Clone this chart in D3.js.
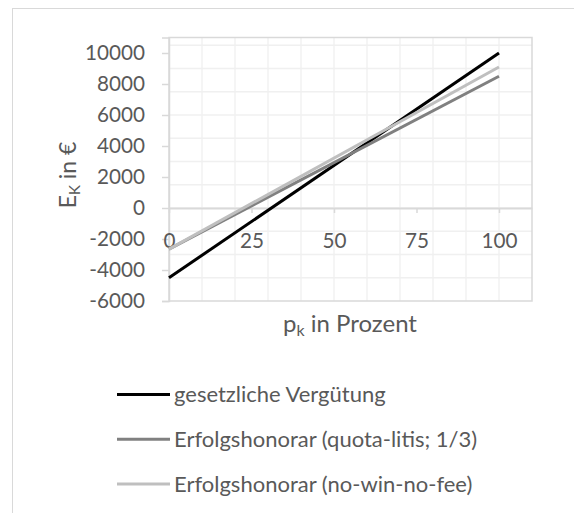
<!DOCTYPE html>
<html>
<head>
<meta charset="utf-8">
<script src="https://cdn.jsdelivr.net/npm/d3@7"></script>
<style>
  body { margin: 0; background: #fff; }
  text { font-family: Lato, 'Open Sans', sans-serif; fill: #595959; }
</style>
</head>
<body>
<div id="chart"></div>
<script>
// values
const pValues = [0, 100];
const gesetzlich = [-4500, 10000];
const quotaLitis = [-2650, 8500];
const noWinNoFee = [-2650, 9100];

const seriesNames = [
  'gesetzliche Vergütung',
  'Erfolgshonorar (quota-litis; 1/3)',
  'Erfolgshonorar (no-win-no-fee)',
];
const seriesColors = ['#000000', '#808080', '#bfbfbf'];

const xTicks = [0, 25, 50, 75, 100];
const yTicks = [-6000, -4000, -2000, 0, 2000, 4000, 6000, 8000, 10000];

const width = 574;
const height = 513;
const plot = { l: 169, r: 532, t: 37.5, b: 301 };

const svg = d3
  .select('#chart')
  .append('svg')
  .attr('width', width)
  .attr('height', height);

// chart frame (runs off the picture at right and bottom)
svg
  .append('rect')
  .attr('x', 12.5)
  .attr('y', 8.5)
  .attr('width', 700)
  .attr('height', 700)
  .attr('fill', 'none')
  .attr('stroke', '#d9d9d9');

const x = d3.scaleLinear().domain([0, 110]).range([plot.l, plot.r]);
const y = d3.scaleLinear().domain([-6000, 11000]).range([plot.b, plot.t]);

// gridlines
const grid = svg.append('g').attr('stroke', '#f0f0f0').attr('stroke-width', 1.3);
grid
  .selectAll('line.v')
  .data(d3.range(10, 110, 10))
  .join('line')
  .attr('class', 'v')
  .attr('x1', (d) => x(d))
  .attr('x2', (d) => x(d))
  .attr('y1', plot.t)
  .attr('y2', plot.b);
grid
  .selectAll('line.h')
  .data(d3.range(-4500, 11000, 1500))
  .join('line')
  .attr('class', 'h')
  .attr('x1', plot.l)
  .attr('x2', plot.r)
  .attr('y1', (d) => y(d))
  .attr('y2', (d) => y(d));

// plot area border
svg
  .append('rect')
  .attr('x', plot.l)
  .attr('y', plot.t)
  .attr('width', plot.r - plot.l)
  .attr('height', plot.b - plot.t)
  .attr('fill', 'none')
  .attr('stroke', '#d9d9d9')
  .attr('stroke-width', 1.5);

const fmt = (d) => String(d); // plain hyphen minus, no thousands separator

// y axis
const yAxis = svg
  .append('g')
  .attr('transform', `translate(${plot.l},0)`)
  .call(d3.axisLeft(y).tickValues(yTicks).tickFormat(fmt).tickSize(7).tickPadding(17));
yAxis.select('.domain').attr('stroke', '#d9d9d9').attr('stroke-width', 1.5);
yAxis.selectAll('.tick line').attr('stroke', '#d9d9d9').attr('stroke-width', 1.5);

// x axis at zero
const xAxis = svg
  .append('g')
  .attr('transform', `translate(0,${y(0)})`)
  .call(
    d3.axisBottom(x).tickValues(xTicks).tickFormat(fmt).tickSize(5).tickPadding(20).tickSizeOuter(0),
  );
xAxis.select('.domain').attr('stroke', '#d9d9d9').attr('stroke-width', 2);
xAxis.selectAll('.tick line').attr('stroke', '#d9d9d9').attr('stroke-width', 1.5);

svg
  .selectAll('.tick text')
  .attr('font-size', 20.7)
  .attr('fill', '#595959')
  .style('font-family', 'Lato, sans-serif');

// series
const allSeries = [gesetzlich, quotaLitis, noWinNoFee];
const line = d3
  .line()
  .x((d, i) => x(pValues[i]))
  .y((d) => y(d));

svg
  .append('g')
  .selectAll('path')
  .data(allSeries)
  .join('path')
  .attr('d', line)
  .attr('fill', 'none')
  .attr('stroke', (d, i) => seriesColors[i])
  .attr('stroke-width', 3);

// axis titles
const yTitle = svg
  .append('text')
  .attr('transform', `translate(76,175) rotate(-90)`)
  .attr('text-anchor', 'middle')
  .attr('font-size', 23);
yTitle.append('tspan').text('E');
yTitle.append('tspan').attr('font-size', 15).attr('dy', 4).text('K');
yTitle.append('tspan').attr('dy', -4).text(' in €');

const xTitle = svg
  .append('text')
  .attr('x', 350)
  .attr('y', 331.5)
  .attr('text-anchor', 'middle')
  .attr('font-size', 24);
xTitle.append('tspan').text('p');
xTitle.append('tspan').attr('font-size', 16).attr('dy', 4).text('k');
xTitle.append('tspan').attr('dy', -4).text(' in Prozent');

// legend
const legend = svg
  .append('g')
  .selectAll('g')
  .data(seriesNames)
  .join('g')
  .attr('transform', (d, i) => `translate(117,${394.5 + i * 44.7})`);
legend
  .append('line')
  .attr('x1', 0)
  .attr('x2', 53)
  .attr('stroke', (d, i) => seriesColors[i])
  .attr('stroke-width', 3);
legend
  .append('text')
  .attr('x', 57)
  .attr('dy', '0.35em')
  .attr('font-size', 22)
  .text((d) => d);
</script>
</body>
</html>
